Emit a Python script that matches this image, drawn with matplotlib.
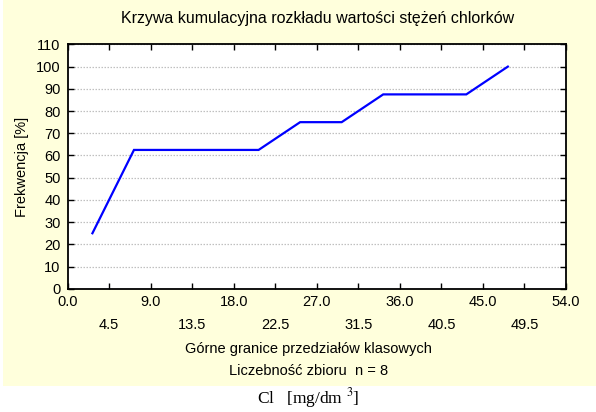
import numpy as np
import matplotlib.pyplot as plt
from matplotlib.patches import Rectangle

### Data
# upper class limits (mg/dm3) and cumulative frequency (%)
upper_limits = [2.7, 7.2, 11.7, 16.2, 20.7, 25.2, 29.7, 34.2, 38.7, 43.2, 47.7]
cum_freq = [25.0, 62.5, 62.5, 62.5, 62.5, 75.0, 75.0, 87.5, 87.5, 87.5, 100.0]

xticks_major = [0.0, 9.0, 18.0, 27.0, 36.0, 45.0, 54.0]
xticks_minor = [4.5, 13.5, 22.5, 31.5, 40.5, 49.5]
yticks = list(range(0, 111, 10))

plt.rcParams['font.family'] = ['Liberation Sans', 'DejaVu Sans']

fig = plt.figure(figsize=(5.96, 4.12), dpi=100)
fig.patch.set_facecolor('white')
# beige panel behind the chart
fig.add_artist(Rectangle((3/596, 1 - 386/412), 1 - 3/596, 386/412,
                         transform=fig.transFigure, facecolor='#ffffdc',
                         edgecolor='none', zorder=-10))

ax = fig.add_axes([67.5/596, 1 - 288.8/412, 498.5/596, 244.4/412])
ax.set_facecolor('white')

ax.plot(upper_limits, cum_freq, color='#0000ff', lw=1.6, solid_joinstyle='miter')

ax.set_xlim(0, 54)
ax.set_ylim(0, 110)

# two rows of x tick labels
ax.set_xticks(xticks_major)
ax.set_xticklabels(['%.1f' % v for v in xticks_major])
ax.set_xticks(xticks_minor, minor=True)
ax.set_xticklabels(['%.1f' % v for v in xticks_minor], minor=True)
ax.tick_params(axis='x', which='major', direction='in', length=4, width=1,
               top=True, pad=4.5, labelsize=10.5)
ax.tick_params(axis='x', which='minor', direction='in', length=4, width=1,
               top=True, pad=21, labelsize=10.5)

ax.set_yticks(yticks)
ax.tick_params(axis='y', direction='in', length=4, width=1, right=True,
               pad=5, labelsize=10.5)

ax.grid(axis='y', color='#c0c0c0', linestyle=(0, (1.2, 1.2)), lw=0.9)
for s in ax.spines.values():
    s.set_linewidth(1.3)
    s.set_color('black')

ax.set_ylabel('Frekwencja [%]', fontsize=10.5, labelpad=5)

fig.text(0.532, 1 - 19/412, 'Krzywa kumulacyjna rozkładu wartości stężeń chlorków',
         ha='center', va='center', fontsize=11.5)
fig.text(0.517, 1 - 349/412, 'Górne granice przedziałów klasowych',
         ha='center', va='center', fontsize=10.5)
fig.text(0.517, 1 - 371/412, 'Liczebność zbioru  n = 8',
         ha='center', va='center', fontsize=10.5)
fig.text(0.517, 1 - 398/412, r'Cl   [mg/dm $^{3}$]', ha='center', va='center',
         fontsize=12.5, family=['Liberation Serif', 'DejaVu Serif'],
         math_fontfamily='stix')

fig.savefig('out.png', dpi=100, facecolor=fig.get_facecolor())
